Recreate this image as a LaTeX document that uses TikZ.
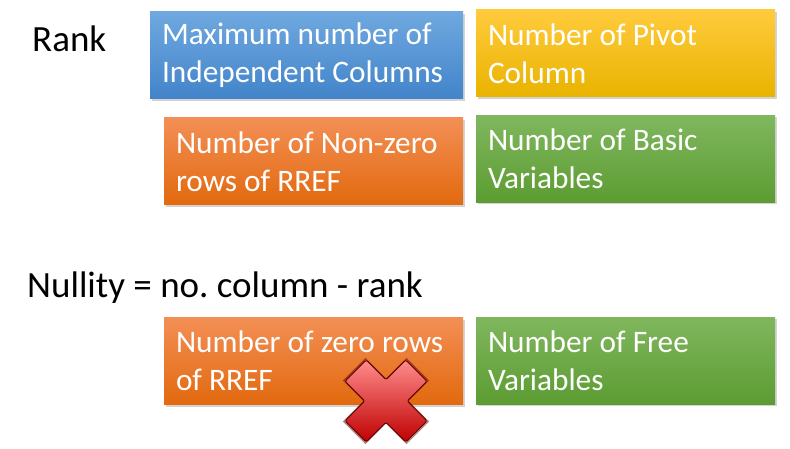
\documentclass[tikz,border=0pt]{standalone}
\usepackage{fontspec}
\setmainfont{Carlito}
\usepackage{xcolor}
\usetikzlibrary{shadows}

\definecolor{blueTop}{HTML}{6FA8DF}
\definecolor{blueBot}{HTML}{4284CA}
\definecolor{goldTop}{HTML}{FFCB3C}
\definecolor{goldBot}{HTML}{E9B300}
\definecolor{orangeTop}{HTML}{F38F55}
\definecolor{orangeBot}{HTML}{E2690E}
\definecolor{greenTop}{HTML}{80B75E}
\definecolor{greenBot}{HTML}{5C9C32}

\begin{document}
\frenchspacing
\begin{tikzpicture}[x=1pt, y=-1pt]
    % Define node styles
    \tikzstyle{card} = [rectangle, minimum height=87pt, text width=275pt, inner xsep=12pt, align=flush left,
        text=white, font=\fontsize{31.3}{38}\selectfont,
        drop shadow={shadow xshift=1.5pt, shadow yshift=-2pt, opacity=0.35}]
    \tikzstyle{bluecard} = [card, top color=blueTop, bottom color=blueBot]
    \tikzstyle{goldcard} = [card, top color=goldTop, bottom color=goldBot]
    \tikzstyle{orangecard} = [card, top color=orangeTop, bottom color=orangeBot]
    \tikzstyle{greencard} = [card, top color=greenTop, bottom color=greenBot]
    \tikzstyle{heading} = [anchor=base west, inner sep=0pt, font=\fontsize{37}{44}\selectfont]

    \useasboundingbox (0,0) rectangle (790,449);

    % Headings
    \node[heading] (rank) at (32,52) {Rank};
    \node[heading] (nullity) at (27,297) {Nullity = no. column - rank};

    % Rank cards
    \node[bluecard, text width=289pt] (maxcols) at (306.5,55.5) {Maximum number of Independent Columns};
    \node[goldcard] (pivot) at (625.5,53.5) {Number of Pivot Column};
    \node[orangecard] (nonzero) at (313.5,161.5) {Number of Non-zero rows of RREF};
    \node[greencard] (basic) at (625.5,159) {Number of Basic Variables};

    % Nullity cards
    \node[orangecard] (zerorows) at (313.5,361) {Number of zero rows of RREF};
    \node[greencard] (free) at (625.5,360.5) {Number of Free Variables};

    % Red cross
    \begin{scope}[shift={(386,401)}, rotate=45]
        \fill[red!40!black, opacity=0.5] (16,16) -- (16,45) -- (-16,45) -- (-16,16) -- (-45,16) -- (-45,-16)
            -- (-16,-16) -- (-16,-45) -- (16,-45) -- (16,-16) -- (45,-16) -- (45,16) -- cycle;
        \shade[top color=red!45!white, bottom color=red!75!black, draw=red!35!black, line width=0.8pt,
            rounded corners=2pt]
            (15,15) -- (15,43) -- (-15,43) -- (-15,15) -- (-43,15) -- (-43,-15)
            -- (-15,-15) -- (-15,-43) -- (15,-43) -- (15,-15) -- (43,-15) -- (43,15) -- cycle;
    \end{scope}
\end{tikzpicture}
\end{document}
